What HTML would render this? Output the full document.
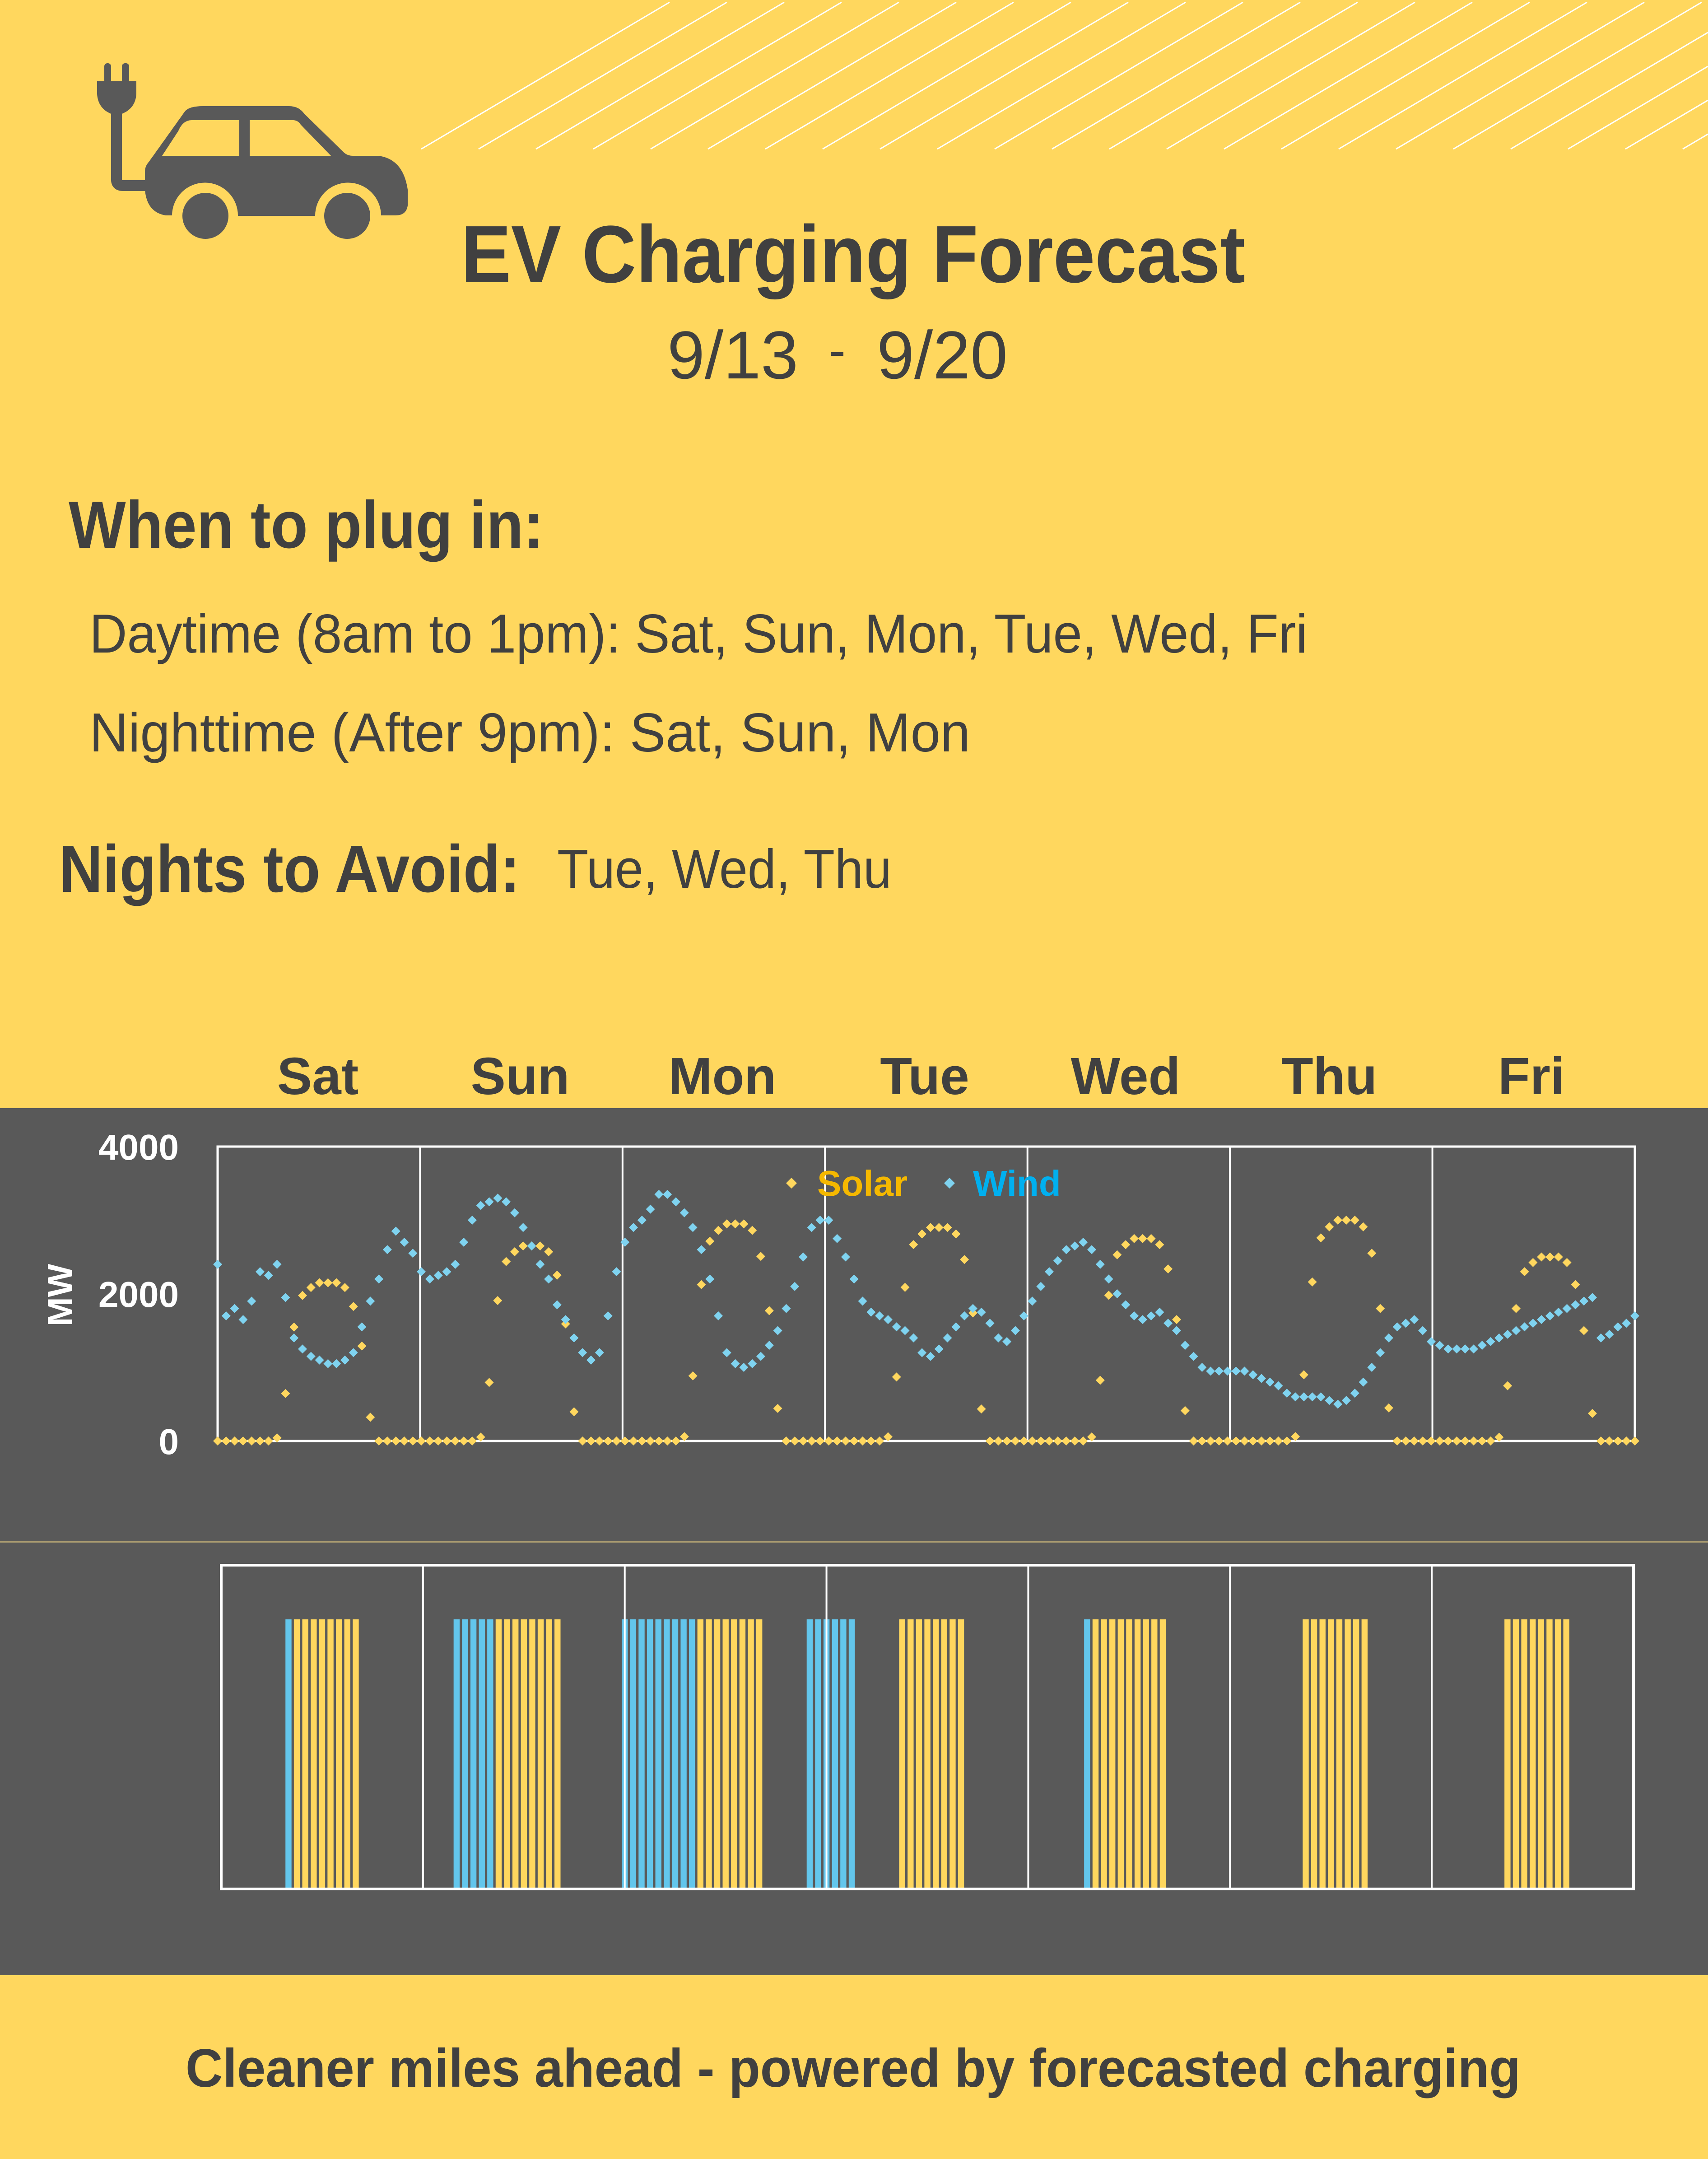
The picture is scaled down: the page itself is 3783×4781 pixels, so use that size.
<!DOCTYPE html>
<html><head><meta charset="utf-8">
<style>
html,body{margin:0;padding:0;background:#FFD75E;}
svg{display:block;}
text{font-family:"Liberation Sans",sans-serif;}
</style></head>
<body>
<svg id="s" width="3783" height="4781" viewBox="0 0 3783 4781" xmlns="http://www.w3.org/2000/svg">
<rect x="0" y="0" width="3783" height="4781" fill="#FFD75E"/>
<g id="diag" stroke="#ffffff" stroke-width="3"></g>
<!-- icon -->
<g fill="#595959">
<rect x="231" y="140" width="15" height="45" rx="7"/>
<rect x="270" y="140" width="16" height="45" rx="7"/>
<path d="M215 180 L302 180 L302 208 Q300 240 270 252 L246 252 Q217 240 215 208 Z"/>
<path d="M258 245 L258 398 Q258 411 272 411 L330 411" fill="none" stroke="#595959" stroke-width="24"/>
<path d="M330 358 L410 246 Q420 235 450 235 L640 235 Q662 235 674 252 L762 338 Q770 345 782 345 L838 345 Q893 352 903 420 L903 455 Q900 477 876 477 L844 477 A73 73 0 0 0 698 478 L527 478 A73 73 0 0 0 381 477 L367 477 Q325 470 321 420 L321 380 Q321 368 330 358 Z"/>
<path d="M359 345 L395 290 Q405 266 425 266 L530 266 L530 345 Z" fill="#FFD75E"/>
<path d="M553 266 L648 266 Q660 266 666 276 L733 345 L553 345 Z" fill="#FFD75E"/>
<circle cx="455" cy="478" r="51"/>
<circle cx="769" cy="478" r="51"/>
</g>
<g fill="#404040">
<text x="1021" y="625" font-size="180" font-weight="bold" textLength="1737" lengthAdjust="spacingAndGlyphs">EV Charging Forecast</text>
<text x="1478" y="838" font-size="150" textLength="290" lengthAdjust="spacingAndGlyphs">9/13</text>
<rect x="1840" y="780" width="28" height="8"/>
<text x="1942" y="838" font-size="150" textLength="290" lengthAdjust="spacingAndGlyphs">9/20</text>
<text x="152" y="1213" font-size="148" font-weight="bold" textLength="1052" lengthAdjust="spacingAndGlyphs">When to plug in:</text>
<text x="198" y="1445" font-size="122" textLength="2698" lengthAdjust="spacingAndGlyphs">Daytime (8am to 1pm): Sat, Sun, Mon, Tue, Wed, Fri</text>
<text x="198" y="1664" font-size="122" textLength="1951" lengthAdjust="spacingAndGlyphs">Nighttime  (After 9pm): Sat, Sun, Mon</text>
<text x="131" y="1975" font-size="148" font-weight="bold" textLength="1021" lengthAdjust="spacingAndGlyphs">Nights to Avoid:</text>
<text x="1234" y="1966" font-size="122" textLength="741" lengthAdjust="spacingAndGlyphs">Tue, Wed, Thu</text>
<g font-size="116" font-weight="bold" text-anchor="middle">
<text x="704" y="2423">Sat</text><text x="1152" y="2423">Sun</text><text x="1600" y="2423">Mon</text>
<text x="2048" y="2423">Tue</text><text x="2493" y="2423">Wed</text><text x="2944" y="2423">Thu</text><text x="3392" y="2423">Fri</text>
</g>
<text x="411" y="4621" font-size="120" font-weight="bold" textLength="2957" lengthAdjust="spacingAndGlyphs">Cleaner miles ahead - powered by forecasted charging</text>
</g>
<rect x="0" y="2454" width="3783" height="1920" fill="#595959"/>
<rect x="0" y="3413" width="3783" height="3" fill="#a89a70"/>
<!-- chart 1 frame -->
<g stroke="#ffffff" fill="none">
<rect x="482" y="2539" width="3139" height="652" stroke-width="5"/>
<g stroke-width="4" id="v1"></g>
</g>
<g fill="#ffffff" font-size="80" font-weight="bold" text-anchor="end">
<text x="396" y="2568">4000</text><text x="396" y="2894">2000</text><text x="396" y="3220">0</text>
</g>
<text transform="translate(160,2868) rotate(-90)" fill="#ffffff" font-size="78" font-weight="bold" text-anchor="middle">MW</text>
<g id="pts"></g>
<g font-size="80" font-weight="bold">
<path d="M1753 2608 L1765 2620 L1753 2632 L1741 2620 Z" fill="#FFD75E"/>
<text x="1810" y="2648" fill="#f5b800">Solar</text>
<path d="M2103 2608 L2115 2620 L2103 2632 L2091 2620 Z" fill="#7fd3f0"/>
<text x="2155" y="2648" fill="#00b0f0">Wind</text>
</g>
<!-- chart 2 -->
<g id="bars"></g>
<g stroke="#ffffff" fill="none">
<rect x="490" y="3466" width="3128" height="717" stroke-width="6"/>
<g stroke-width="4" id="v2"></g>
</g>
</svg>
<script>
var NS="http://www.w3.org/2000/svg";
function el(p,t,a){var e=document.createElementNS(NS,t);for(var k in a)e.setAttribute(k,a[k]);p.appendChild(e);return e;}
var d=document.getElementById('diag');
for(var k=0;k<24;k++){var x1=933+k*127,x2=1483+k*127,y1=330,y2=5;
 if(x1>3783)break;
 if(x2>3783){var t=(3783-x1)/(x2-x1);y2=y1+(y2-y1)*t;x2=3783;}
 el(d,'line',{x1:x1,y1:y1,x2:x2,y2:y2});}
var v1=document.getElementById('v1'),v2=document.getElementById('v2');
for(var i=1;i<7;i++){var x=482+i*3139/7;el(v1,'line',{x1:x,y1:2539,x2:x,y2:3191});
 var xx=490+i*3128/7;el(v2,'line',{x1:xx,y1:3466,x2:xx,y2:4183});}
var prof=[0,0,0,0,0,0,0,0.02,0.3,0.72,0.92,0.97,1,1,1,0.97,0.85,0.6,0.15,0,0,0,0,0];
var peaks=[2150,2650,2950,2900,2750,3000,2500];
var wind=[2400,1700,1800,1650,1900,2300,2250,2400,1950,1400,1250,1150,1100,1050,1050,1100,1200,1550,1900,2200,2600,2850,2700,2550,
2300,2200,2250,2300,2400,2700,3000,3200,3250,3300,3250,3100,2900,2650,2400,2200,1850,1650,1400,1200,1100,1200,1700,2300,
2700,2900,3000,3150,3350,3350,3250,3100,2900,2600,2200,1700,1200,1050,1000,1050,1150,1300,1500,1800,2100,2500,2900,3000,
3000,2750,2500,2200,1900,1750,1700,1650,1550,1500,1400,1200,1150,1250,1400,1550,1700,1800,1750,1600,1400,1350,1500,1700,
1900,2100,2300,2450,2600,2650,2700,2600,2400,2200,2000,1850,1700,1650,1700,1750,1600,1500,1300,1150,1000,950,950,950,
950,950,900,850,800,750,650,600,600,600,600,550,500,550,650,800,1000,1200,1400,1550,1600,1650,1500,1350,
1300,1250,1250,1250,1250,1300,1350,1400,1450,1500,1550,1600,1650,1700,1750,1800,1850,1900,1950,1400,1450,1550,1600,1700];
var pts=document.getElementById('pts'),sp='',wp='';
function dia(x,y){return 'M'+x.toFixed(1)+' '+(y-10).toFixed(1)+' l10 10 l-10 10 l-10 -10 Z ';}
for(var i=0;i<168;i++){var x=482+i*3139/167;var s=peaks[Math.floor(i/24)]*prof[i%24];
 sp+=dia(x,3191-s*0.163);wp+=dia(x,3191-wind[i]*0.163);}
el(pts,'path',{d:sp,fill:'#FFD75E'});el(pts,'path',{d:wp,fill:'#7fd3f0'});
var bars=document.getElementById('bars');
function bar(i,c){el(bars,'rect',{x:490+i*18.62-6.7,y:3586,width:13.4,height:597,fill:c});}
var B='#63c6ec',Y='#FFD75E',j;
bar(8,B);for(j=9;j<=16;j++)bar(j,Y);
for(j=28;j<=32;j++)bar(j,B);for(j=33;j<=40;j++)bar(j,Y);
for(j=48;j<=56;j++)bar(j,B);for(j=57;j<=64;j++)bar(j,Y);
for(j=70;j<=75;j++)bar(j,B);
for(j=81;j<=88;j++)bar(j,Y);
bar(103,B);for(j=104;j<=112;j++)bar(j,Y);
for(j=129;j<=136;j++)bar(j,Y);
for(j=153;j<=160;j++)bar(j,Y);
</script>
</body></html>
